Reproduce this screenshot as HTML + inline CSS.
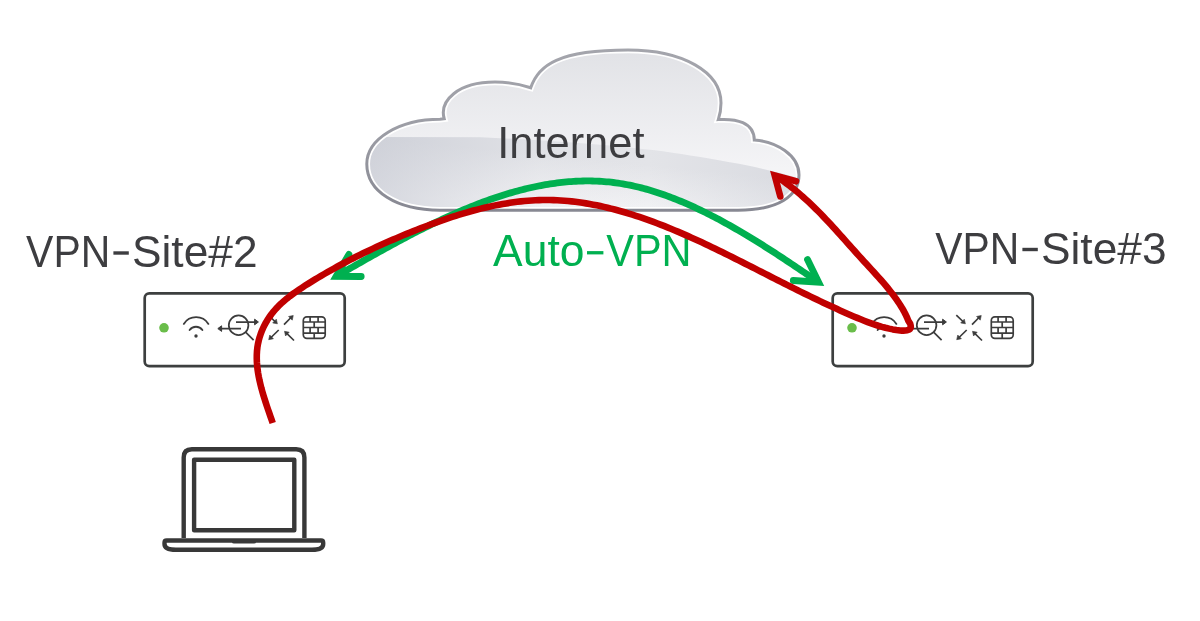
<!DOCTYPE html>
<html><head><meta charset="utf-8"><style>
html,body{margin:0;padding:0;background:#fff;width:1200px;height:621px;overflow:hidden}
svg{display:block;will-change:transform}
text{font-family:"Liberation Sans",sans-serif;stroke:#fff;stroke-width:0px}
</style></head><body>
<svg width="1200" height="621" viewBox="0 0 1200 621">
<defs>
<clipPath id="cc"><path d="M 440 210.2 C 396.2 210.2 366.8 191.3 366.8 164 C 366.8 139 399.1 119.3 440 119.3 L 444.2 118.75 C 439.2 100.9 457.6 82.1 495 82.1 C 507.8 82.1 523.2 85.4 530.7 87.8 C 538.35 64.8 558.8 50 628 50 C 683 50 721 72 721 103 C 721 110 719.5 116 718.3 119.6 C 736 118.5 754 122 754.3 140 C 776 141.5 799 155 799 175 C 799 196 778 210.2 738 210.2 Z"/></clipPath>
<linearGradient id="gtop" x1="0" y1="50" x2="0" y2="175" gradientUnits="userSpaceOnUse">
<stop offset="0" stop-color="#e1e2e6"/><stop offset="1" stop-color="#f5f5f7"/></linearGradient>
<linearGradient id="gbot" x1="0" y1="100.4" x2="0" y2="155" gradientUnits="userSpaceOnUse" gradientTransform="skewY(5.7)">
<stop offset="0" stop-color="#e3e4e8"/><stop offset="1" stop-color="#f5f5f7"/></linearGradient>
<linearGradient id="gstroke" x1="0" y1="48" x2="0" y2="212" gradientUnits="userSpaceOnUse"><stop offset="0" stop-color="#a4a5ac"/><stop offset="0.5" stop-color="#9c9da5"/><stop offset="1" stop-color="#878892"/></linearGradient>
<linearGradient id="gleft" x1="366" y1="0" x2="800" y2="0" gradientUnits="userSpaceOnUse"><stop offset="0" stop-color="#c2c5cf" stop-opacity="0.65"/><stop offset="0.4" stop-color="#c2c5cf" stop-opacity="0.08"/><stop offset="0.65" stop-color="#c2c5cf" stop-opacity="0"/><stop offset="1" stop-color="#c2c5cf" stop-opacity="0.3"/></linearGradient>
</defs>
<path d="M 440 210.2 C 396.2 210.2 366.8 191.3 366.8 164 C 366.8 139 399.1 119.3 440 119.3 L 444.2 118.75 C 439.2 100.9 457.6 82.1 495 82.1 C 507.8 82.1 523.2 85.4 530.7 87.8 C 538.35 64.8 558.8 50 628 50 C 683 50 721 72 721 103 C 721 110 719.5 116 718.3 119.6 C 736 118.5 754 122 754.3 140 C 776 141.5 799 155 799 175 C 799 196 778 210.2 738 210.2 Z" fill="url(#gtop)"/>
<g clip-path="url(#cc)">
<path d="M 350 137 L 480 137.2 C 560 141 640 147 690 155.5 C 740 163 780 172 805 180 L 805 230 L 350 230 Z" fill="url(#gbot)"/>
<path d="M 350 137 L 480 137.2 C 560 141 640 147 690 155.5 C 740 163 780 172 805 180 L 805 230 L 350 230 Z" fill="url(#gleft)"/>
<path d="M 440 210.2 C 396.2 210.2 366.8 191.3 366.8 164 C 366.8 139 399.1 119.3 440 119.3 L 444.2 118.75 C 439.2 100.9 457.6 82.1 495 82.1 C 507.8 82.1 523.2 85.4 530.7 87.8 C 538.35 64.8 558.8 50 628 50 C 683 50 721 72 721 103 C 721 110 719.5 116 718.3 119.6 C 736 118.5 754 122 754.3 140 C 776 141.5 799 155 799 175 C 799 196 778 210.2 738 210.2 Z" fill="none" stroke="#ffffff" stroke-width="6.5"/>
</g>
<path d="M 440 210.2 C 396.2 210.2 366.8 191.3 366.8 164 C 366.8 139 399.1 119.3 440 119.3 L 444.2 118.75 C 439.2 100.9 457.6 82.1 495 82.1 C 507.8 82.1 523.2 85.4 530.7 87.8 C 538.35 64.8 558.8 50 628 50 C 683 50 721 72 721 103 C 721 110 719.5 116 718.3 119.6 C 736 118.5 754 122 754.3 140 C 776 141.5 799 155 799 175 C 799 196 778 210.2 738 210.2 Z" fill="none" stroke="url(#gstroke)" stroke-width="3"/>
<text transform="translate(497.30,158.3) scale(0.9755,1)" x="0" y="0" font-size="44.5" fill="#3d3d40">Internet</text>
<text transform="translate(26.10,267) scale(0.9193,1)" x="0" y="0" font-size="44.5" fill="#3d3d40">VPN</text>
<rect x="113.4" y="251.3" width="15.4" height="3.4" fill="#3d3d40"/>
<text transform="translate(132.01,267) scale(0.9951,1)" x="0" y="0" font-size="44.5" fill="#3d3d40">Site#2</text>
<text transform="translate(935.20,263.5) scale(0.9182,1)" x="0" y="0" font-size="44.5" fill="#3d3d40">VPN</text>
<rect x="1022.4" y="247.8" width="15.4" height="3.4" fill="#3d3d40"/>
<text transform="translate(1041.01,263.5) scale(0.9951,1)" x="0" y="0" font-size="44.5" fill="#3d3d40">Site#3</text>
<text transform="translate(493.10,266.2) scale(0.9989,1)" x="0" y="0" font-size="44.5" fill="#00b050">Auto</text>
<rect x="587" y="251.1" width="16.4" height="3.3" fill="#00b050"/>
<text transform="translate(606.25,266.2) scale(0.9324,1)" x="0" y="0" font-size="44.5" fill="#00b050">VPN</text>
<g transform="translate(0,0)"><rect x="144.7" y="293.3" width="200" height="72.8" rx="4.6" fill="#fff" stroke="#3d3f3f" stroke-width="2.7"/><circle cx="164" cy="327.8" r="4.8" fill="#6abd4a"/><path d="M 183.8 323.9 A 14.5 14.5 0 0 1 208.4 323.9 M 189.6 330 A 7.9 7.9 0 0 1 202.4 330" fill="none" stroke="#3c3c3c" stroke-width="1.85" stroke-linecap="round"/><circle cx="196" cy="336" r="1.7" fill="#3c3c3c"/><g stroke="#3c3c3c" stroke-width="1.75" fill="none"><circle cx="238.6" cy="325.2" r="9.8"/><path d="M 245.6 332.2 L 253.6 340.2"/><path d="M 236 322 L 255 322 M 241 328.6 L 221 328.6"/></g><path d="M 254.6 319.2 L 258.4 322 L 254.6 324.8 Z M 221.6 325.8 L 217.8 328.6 L 221.6 331.4 Z" fill="#3c3c3c" stroke="#3c3c3c" stroke-width="1" stroke-linejoin="round"/><g stroke="#3c3c3c" stroke-width="1.7" fill="none"><path d="M 268.3 315.1 L 275.5 322 M 284 324.7 L 291 317.5 M 278.7 330 L 270.5 338 M 294 340.5 L 286.5 333.2"/></g><path d="M 277.40 323.80 L 272.71 322.92 L 276.31 319.16 Z M 293.25 315.50 L 292.25 320.16 L 288.58 316.48 Z M 268.70 339.70 L 269.76 335.05 L 273.38 338.78 Z M 284.50 331.30 L 289.18 332.21 L 285.56 335.95 Z " fill="#3c3c3c" stroke="#3c3c3c" stroke-width="0.6" stroke-linejoin="round"/><g stroke="#3c3c3c" stroke-width="1.7" fill="none"><rect x="303.3" y="316.8" width="21.9" height="21.6" rx="3.6"/><path d="M 303.3 322 H 325.2 M 303.3 327.5 H 325.2 M 303.3 333.1 H 325.2 M 310.1 316.8 V 322 M 318.1 316.8 V 322 M 314.2 322 V 327.5 M 310.1 327.5 V 333.1 M 318.1 327.5 V 333.1 M 314.2 333.1 V 338.4"/></g></g>
<g transform="translate(688,0)"><rect x="144.7" y="293.3" width="200" height="72.8" rx="4.6" fill="#fff" stroke="#3d3f3f" stroke-width="2.7"/><circle cx="164" cy="327.8" r="4.8" fill="#6abd4a"/><path d="M 183.8 323.9 A 14.5 14.5 0 0 1 208.4 323.9 M 189.6 330 A 7.9 7.9 0 0 1 202.4 330" fill="none" stroke="#3c3c3c" stroke-width="1.85" stroke-linecap="round"/><circle cx="196" cy="336" r="1.7" fill="#3c3c3c"/><g stroke="#3c3c3c" stroke-width="1.75" fill="none"><circle cx="238.6" cy="325.2" r="9.8"/><path d="M 245.6 332.2 L 253.6 340.2"/><path d="M 236 322 L 255 322 M 241 328.6 L 221 328.6"/></g><path d="M 254.6 319.2 L 258.4 322 L 254.6 324.8 Z M 221.6 325.8 L 217.8 328.6 L 221.6 331.4 Z" fill="#3c3c3c" stroke="#3c3c3c" stroke-width="1" stroke-linejoin="round"/><g stroke="#3c3c3c" stroke-width="1.7" fill="none"><path d="M 268.3 315.1 L 275.5 322 M 284 324.7 L 291 317.5 M 278.7 330 L 270.5 338 M 294 340.5 L 286.5 333.2"/></g><path d="M 277.40 323.80 L 272.71 322.92 L 276.31 319.16 Z M 293.25 315.50 L 292.25 320.16 L 288.58 316.48 Z M 268.70 339.70 L 269.76 335.05 L 273.38 338.78 Z M 284.50 331.30 L 289.18 332.21 L 285.56 335.95 Z " fill="#3c3c3c" stroke="#3c3c3c" stroke-width="0.6" stroke-linejoin="round"/><g stroke="#3c3c3c" stroke-width="1.7" fill="none"><rect x="303.3" y="316.8" width="21.9" height="21.6" rx="3.6"/><path d="M 303.3 322 H 325.2 M 303.3 327.5 H 325.2 M 303.3 333.1 H 325.2 M 310.1 316.8 V 322 M 318.1 316.8 V 322 M 314.2 322 V 327.5 M 310.1 327.5 V 333.1 M 318.1 327.5 V 333.1 M 314.2 333.1 V 338.4"/></g></g>
<g fill="none" stroke="#383838" stroke-width="4.4" stroke-linejoin="round">
<path d="M 183.7 538 V 457.5 Q 183.7 449.3 191.9 449.3 H 296.2 Q 304.4 449.3 304.4 457.5 V 538"/>
<rect x="194.1" y="459.7" width="100.2" height="70.6"/>
<path d="M 166.7 540.5 H 321 Q 323.2 540.5 323.2 542.7 V 544 Q 323.2 549.8 312 549.8 H 176 Q 164.5 549.8 164.5 544 V 542.7 Q 164.5 540.5 166.7 540.5 Z"/>
</g>
<path d="M 232 540 H 256 V 542 Q 256 543.5 254 543.5 H 234 Q 232 543.5 232 542 Z" fill="#383838"/>
<path d="M 336.11 276.30 L 338.12 275.16 L 340.13 274.02 L 342.14 272.88 L 344.16 271.73 L 346.19 270.57 L 348.22 269.42 L 350.26 268.26 L 352.30 267.10 L 354.35 265.93 L 356.40 264.76 L 358.46 263.59 L 360.53 262.42 L 362.60 261.25 L 364.67 260.08 L 366.75 258.90 L 368.84 257.73 L 370.93 256.55 L 373.02 255.38 L 375.13 254.20 L 377.23 253.03 L 379.34 251.85 L 381.46 250.68 L 383.58 249.50 L 385.70 248.33 L 387.83 247.16 L 389.96 245.99 L 392.10 244.83 L 394.24 243.66 L 396.39 242.50 L 398.54 241.34 L 400.70 240.19 L 402.86 239.04 L 405.03 237.89 L 407.19 236.75 L 409.37 235.61 L 411.54 234.47 L 413.73 233.34 L 415.91 232.21 L 418.10 231.09 L 420.29 229.98 L 422.49 228.87 L 424.69 227.77 L 426.90 226.67 L 429.10 225.58 L 431.32 224.50 L 433.53 223.42 L 435.75 222.35 L 437.97 221.29 L 440.20 220.23 L 442.43 219.19 L 444.66 218.15 L 446.90 217.12 L 449.14 216.10 L 451.38 215.09 L 453.63 214.09 L 455.88 213.10 L 458.13 212.12 L 460.38 211.15 L 462.64 210.19 L 464.90 209.23 L 467.17 208.30 L 469.43 207.37 L 471.70 206.45 L 473.98 205.54 L 476.25 204.65 L 478.53 203.77 L 480.81 202.90 L 483.09 202.05 L 485.38 201.20 L 487.66 200.37 L 489.95 199.56 L 492.25 198.76 L 494.54 197.97 L 496.84 197.20 L 499.14 196.44 L 501.44 195.69 L 503.74 194.96 L 506.05 194.25 L 508.35 193.55 L 510.66 192.87 L 512.97 192.20 L 515.29 191.55 L 517.60 190.92 L 519.92 190.30 L 522.24 189.70 L 524.55 189.12 L 526.88 188.56 L 529.20 188.01 L 531.52 187.49 L 533.85 186.98 L 536.18 186.49 L 538.50 186.01 L 540.83 185.56 L 543.16 185.13 L 545.50 184.72 L 547.83 184.32 L 550.16 183.95 L 552.50 183.60 L 554.83 183.27 L 557.17 182.96 L 559.51 182.67 L 561.85 182.40 L 564.19 182.15 L 566.53 181.93 L 568.87 181.73 L 571.21 181.55 L 573.55 181.40 L 575.90 181.26 L 578.24 181.15 L 580.58 181.07 L 582.93 181.01 L 585.27 180.97 L 587.62 180.96 L 589.96 180.97 L 592.31 181.01 L 594.65 181.07 L 597.00 181.16 L 599.34 181.27 L 601.69 181.41 L 604.03 181.57 L 606.38 181.77 L 608.72 181.98 L 611.07 182.23 L 613.41 182.50 L 615.75 182.80 L 618.10 183.13 L 620.44 183.49 L 622.78 183.87 L 625.13 184.28 L 627.47 184.72 L 629.81 185.19 L 632.15 185.68 L 634.48 186.20 L 636.82 186.74 L 639.16 187.31 L 641.49 187.90 L 643.82 188.51 L 646.15 189.15 L 648.48 189.81 L 650.80 190.50 L 653.12 191.20 L 655.44 191.93 L 657.76 192.68 L 660.07 193.45 L 662.38 194.24 L 664.69 195.05 L 666.99 195.88 L 669.30 196.73 L 671.59 197.60 L 673.88 198.49 L 676.17 199.39 L 678.46 200.31 L 680.74 201.25 L 683.02 202.20 L 685.29 203.18 L 687.55 204.16 L 689.82 205.16 L 692.07 206.18 L 694.32 207.21 L 696.57 208.26 L 698.81 209.31 L 701.05 210.39 L 703.28 211.47 L 705.50 212.56 L 707.72 213.67 L 709.93 214.79 L 712.13 215.92 L 714.33 217.06 L 716.52 218.21 L 718.71 219.37 L 720.88 220.54 L 723.05 221.72 L 725.22 222.90 L 727.37 224.10 L 729.52 225.30 L 731.66 226.50 L 733.79 227.72 L 735.92 228.94 L 738.03 230.16 L 740.14 231.40 L 742.24 232.63 L 744.33 233.87 L 746.42 235.12 L 748.49 236.37 L 750.56 237.62 L 752.62 238.88 L 754.68 240.14 L 756.73 241.41 L 758.77 242.68 L 760.80 243.95 L 762.83 245.23 L 764.86 246.51 L 766.88 247.80 L 768.90 249.09 L 770.91 250.38 L 772.91 251.67 L 774.92 252.97 L 776.92 254.28 L 778.91 255.58 L 780.91 256.89 L 782.90 258.20 L 784.88 259.52 L 786.87 260.83 L 788.86 262.15 L 790.84 263.47 L 792.82 264.80 L 794.80 266.12 L 796.78 267.45 L 798.76 268.79 L 800.74 270.12 L 802.72 271.45 L 804.70 272.79 L 806.68 274.13 L 808.66 275.47 L 810.64 276.81 L 812.63 278.16 L 814.61 279.50 L 816.60 280.85 L 818.60 282.20" fill="none" stroke="#00b050" stroke-width="6.8"/>
<path d="M 361.2 276.5 L 336.1 276.3 L 348.9 254.4 M 793.3 280.5 L 818.6 282.2 L 807.5 259.5" fill="none" stroke="#00b050" stroke-width="6.8" stroke-linejoin="miter" stroke-miterlimit="10" stroke-linecap="round"/>
<path d="M 272.7 423.0 L 271.57 419.69 L 270.4 416.32 L 269.22 412.91 L 268.03 409.45 L 266.84 405.94 L 265.66 402.4 L 264.51 398.83 L 263.4 395.23 L 262.34 391.6 L 261.33 387.96 L 260.4 384.29 L 259.54 380.61 L 258.78 376.92 L 258.13 373.23 L 257.58 369.54 L 257.17 365.85 L 256.89 362.17 L 256.76 358.49 L 256.79 354.84 L 256.99 351.2 L 257.37 347.59 L 257.95 344.0 L 258.73 340.45 L 259.7 336.94 L 260.85 333.48 L 262.19 330.08 L 263.7 326.74 L 265.38 323.48 L 267.23 320.31 L 269.22 317.23 L 271.37 314.25 L 273.65 311.38 L 276.07 308.63 L 278.62 305.97 L 281.27 303.41 L 284.02 300.95 L 286.87 298.56 L 289.79 296.25 L 292.78 294.01 L 295.82 291.83 L 298.92 289.7 L 302.05 287.63 L 305.2 285.59 L 308.37 283.59 L 311.54 281.62 L 314.72 279.67 L 317.9 277.75 L 321.08 275.86 L 324.27 273.99 L 327.47 272.14 L 330.67 270.32 L 333.88 268.53 L 337.09 266.75 L 340.31 265.0 L 343.54 263.27 L 346.77 261.57 L 350.01 259.88 L 353.26 258.21 L 356.52 256.57 L 359.78 254.94 L 363.06 253.33 L 366.34 251.74 L 369.64 250.17 L 372.94 248.62 L 376.25 247.08 L 379.57 245.56 L 382.91 244.06 L 386.25 242.57 L 389.61 241.09 L 392.98 239.63 L 396.36 238.18 L 399.75 236.74 L 403.15 235.32 L 406.57 233.91 L 410.0 232.51 L 413.45 231.12 L 416.91 229.75 L 420.38 228.39 L 423.86 227.04 L 427.35 225.71 L 430.86 224.4 L 434.37 223.11 L 437.9 221.83 L 441.44 220.58 L 444.98 219.36 L 448.54 218.15 L 452.1 216.98 L 455.67 215.83 L 459.25 214.71 L 462.84 213.62 L 466.43 212.56 L 470.03 211.54 L 473.63 210.54 L 477.25 209.59 L 480.86 208.67 L 484.48 207.79 L 488.11 206.95 L 491.74 206.15 L 495.37 205.39 L 499.0 204.68 L 502.64 204.01 L 506.28 203.39 L 509.92 202.81 L 513.56 202.28 L 517.21 201.81 L 520.85 201.39 L 524.49 201.02 L 528.13 200.7 L 531.77 200.44 L 535.41 200.24 L 539.05 200.09 L 542.68 200.01 L 546.32 199.99 L 549.94 200.02 L 553.57 200.11 L 557.19 200.26 L 560.81 200.47 L 564.43 200.73 L 568.04 201.04 L 571.65 201.4 L 575.26 201.82 L 578.86 202.29 L 582.46 202.8 L 586.05 203.37 L 589.65 203.98 L 593.23 204.64 L 596.81 205.34 L 600.39 206.09 L 603.97 206.88 L 607.54 207.72 L 611.1 208.59 L 614.66 209.51 L 618.21 210.46 L 621.76 211.45 L 625.31 212.48 L 628.85 213.55 L 632.38 214.64 L 635.91 215.78 L 639.43 216.94 L 642.95 218.14 L 646.46 219.37 L 649.96 220.63 L 653.46 221.91 L 656.96 223.23 L 660.44 224.57 L 663.93 225.94 L 667.4 227.33 L 670.87 228.74 L 674.33 230.18 L 677.78 231.64 L 681.23 233.11 L 684.67 234.61 L 688.1 236.13 L 691.53 237.66 L 694.95 239.21 L 698.36 240.78 L 701.76 242.35 L 705.16 243.95 L 708.54 245.55 L 711.92 247.16 L 715.3 248.79 L 718.66 250.42 L 722.02 252.06 L 725.36 253.71 L 728.7 255.36 L 732.03 257.02 L 735.35 258.69 L 738.67 260.35 L 741.97 262.02 L 745.27 263.68 L 748.55 265.35 L 751.83 267.02 L 755.1 268.68 L 758.36 270.34 L 761.61 272.0 L 764.86 273.65 L 768.1 275.3 L 771.33 276.95 L 774.57 278.6 L 777.8 280.24 L 781.03 281.87 L 784.26 283.51 L 787.49 285.13 L 790.72 286.76 L 793.96 288.38 L 797.2 289.99 L 800.44 291.6 L 803.69 293.2 L 806.94 294.8 L 810.21 296.39 L 813.48 297.97 L 816.76 299.55 L 820.05 301.12 L 823.35 302.68 L 826.66 304.24 L 829.99 305.79 L 833.33 307.33 L 836.68 308.87 L 840.06 310.39 L 843.45 311.91 L 846.85 313.42 L 850.28 314.92 L 853.72 316.41 L 857.19 317.88 L 860.67 319.32 L 864.17 320.73 L 867.69 322.08 L 871.22 323.38 L 874.77 324.61 L 878.34 325.76 L 881.92 326.82 L 885.51 327.78 L 889.12 328.64 L 892.74 329.38 L 896.37 330.0 L 900.01 330.48 C 908.5 331.2 912.3 330 910.2 323.8 L 908.32 320.75 L 907.01 317.51 L 905.54 314.35 L 903.92 311.26 L 902.19 308.23 L 900.35 305.25 L 898.44 302.31 L 896.45 299.42 L 894.4 296.56 L 892.28 293.74 L 890.11 290.94 L 887.88 288.18 L 885.61 285.44 L 883.3 282.73 L 880.96 280.03 L 878.58 277.35 L 876.18 274.69 L 873.77 272.03 L 871.34 269.38 L 868.91 266.74 L 866.47 264.1 L 864.04 261.45 L 861.62 258.8 L 859.22 256.15 L 856.82 253.48 L 854.43 250.82 L 852.05 248.15 L 849.68 245.49 L 847.31 242.82 L 844.94 240.16 L 842.57 237.5 L 840.2 234.85 L 837.82 232.21 L 835.44 229.58 L 833.05 226.95 L 830.66 224.35 L 828.25 221.75 L 825.82 219.17 L 823.38 216.61 L 820.93 214.07 L 818.45 211.55 L 815.96 209.05 L 813.44 206.58 L 810.89 204.13 L 808.32 201.71 L 805.72 199.32 L 803.09 196.96 L 800.43 194.63 L 797.73 192.34 L 795.0 190.08 L 792.23 187.86 L 789.42 185.68 L 786.57 183.53 L 783.67 181.43 L 780.73 179.38 L 777.74 177.36 L 774.7 175.4" fill="none" stroke="#c00000" stroke-width="6.6" stroke-linejoin="round"/>
<path d="M 796 181.3 L 774.7 175.4 L 780.3 196.5" fill="none" stroke="#c00000" stroke-width="6.6" stroke-linejoin="miter" stroke-miterlimit="10" stroke-linecap="round"/>
</svg>
</body></html>
